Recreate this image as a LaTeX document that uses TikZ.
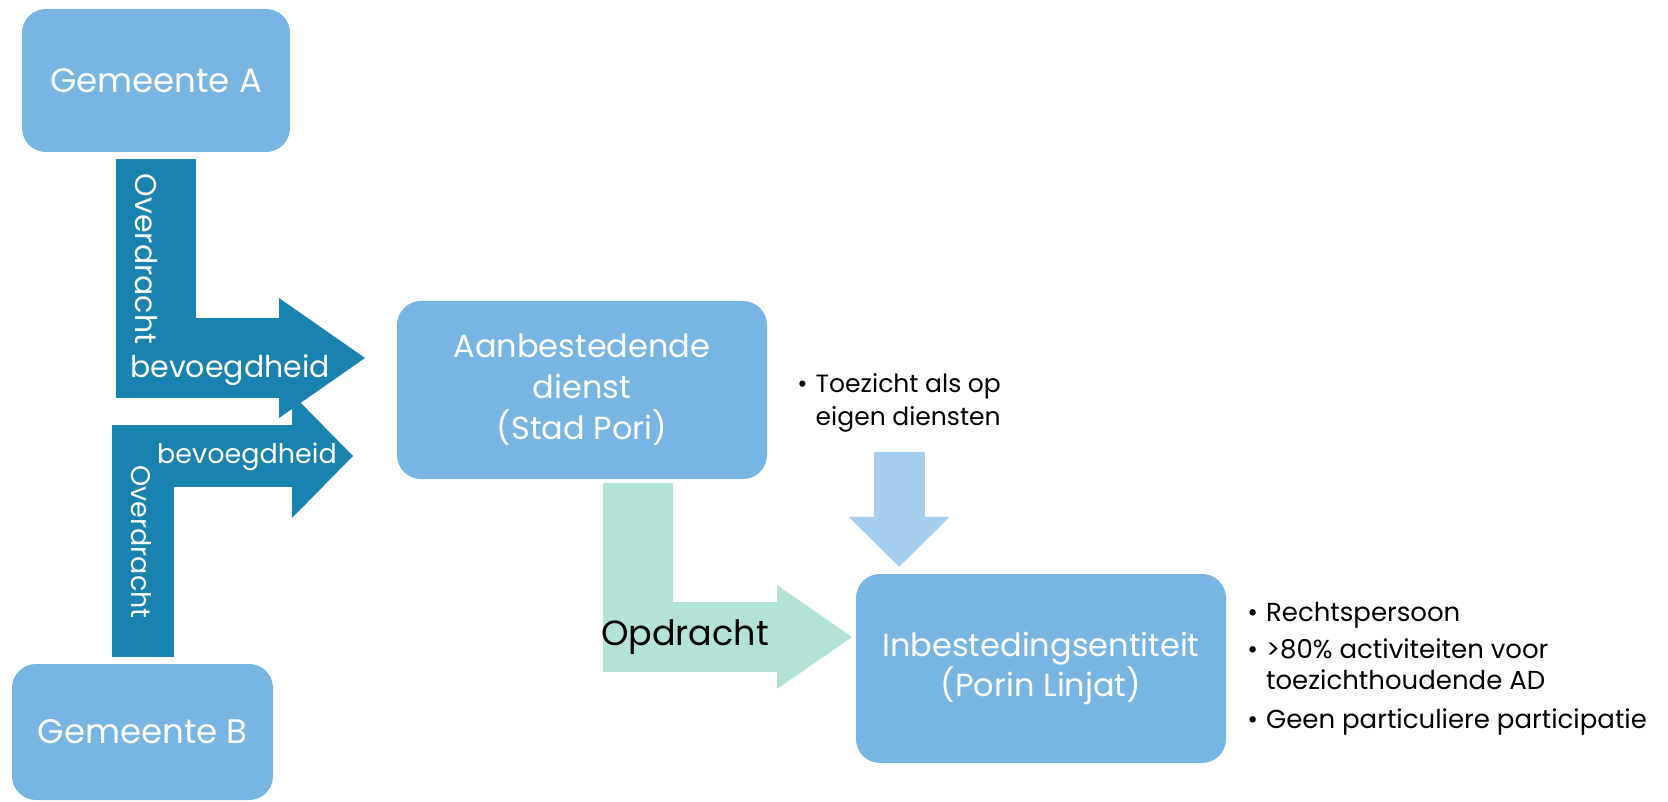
\documentclass[tikz,border=0pt]{standalone}
\usepackage{fontspec}
\setmainfont{Poppins}
\usepackage{tikz}
\usetikzlibrary{positioning, arrows.meta}
\definecolor{boxblue}{RGB}{119,181,227}
\definecolor{tealarrow}{RGB}{25,130,174}
\definecolor{mintarrow}{RGB}{179,227,214}
\definecolor{skyarrow}{RGB}{165,205,237}
\newcommand{\vrt}[1]{\rotatebox[origin=c]{-90}{#1}}
\newcommand{\fsz}[2]{\fontsize{#1}{#2}\selectfont}

\begin{document}
\begin{tikzpicture}[x=1pt, y=-1pt,
    entity/.style={fill=boxblue, rounded corners=24pt, text=white, align=center, inner sep=0pt},
    blockarrow/.style n args={3}{line width=#1, -{Triangle[length=#2, width=#3, line width=0pt]}},
    lbl/.style={text=white, inner sep=0pt}]
                \useasboundingbox (0,0) rectangle (1668,802);

                \node [entity, minimum width=268pt, minimum height=143pt, font=\fsz{34}{40}] (gemA) at (156,80.5) {Gemeente A};
                \node [entity, minimum width=261pt, minimum height=136pt, font=\fsz{34}{40}] (gemB) at (142.5,732) {Gemeente B};
                \node [entity, minimum width=370pt, minimum height=178pt, font=\fsz{32}{41}] (aanb) at (582,390) {Aanbestedende\\dienst\\(Stad Pori)};
                \node [entity, minimum width=370pt, minimum height=189pt, font=\fsz{32}{40}] (inb) at (1041,668.5) {Inbestedingsentiteit\\(Porin Linjat)};

                \node [right=30pt of aanb, yshift=-12pt, inner sep=0pt, font=\fsz{25}{33}] (toez) {\begin{tabular}{@{}l@{\hspace{8pt}}l@{}}\textbullet & Toezicht als op\\ & eigen diensten\end{tabular}};
                \node [right=21pt of inb, inner sep=0pt, font=\fsz{26}{31}] (crit) {\begin{tabular}{@{}l@{\hspace{8pt}}l@{}}\textbullet & Rechtspersoon\\[6pt] \textbullet & >80\% activiteiten voor\\ & toezichthoudende AD\\[8pt] \textbullet & Geen particuliere participatie\end{tabular}};

                \coordinate (tipA) at (365,358);
                \coordinate (tipB) at (353,456);
                \coordinate (tipO) at (852,637);

                \draw [blockarrow={80pt}{86pt}{120pt}, draw=tealarrow] ([yshift=-7pt]gemA.south) |- (tipA);
                \draw [blockarrow={62pt}{61pt}{124pt}, draw=tealarrow] ([yshift=7pt]gemB.north) |- (tipB);
                \draw [blockarrow={70pt}{75pt}{104pt}, draw=mintarrow] ([xshift=56pt, yshift=-4pt]aanb.south) |- (tipO);
                \draw [blockarrow={51pt}{50pt}{101pt}, draw=skyarrow] ([yshift=-17pt]toez.south) -- ([yshift=7pt]toez.south |- inb.north);

                \node [lbl, font=\fsz{30}{36}] (ovA) at (146,259) {\vrt{Overdracht}};
                \node [lbl, anchor=base, font=\fsz{30}{36}] (bvA) at (230,377) {bevoegdheid};
                \node [lbl, font=\fsz{27}{32}] (ovB) at (141,542) {\vrt{Overdracht}};
                \node [lbl, anchor=base, font=\fsz{27}{32}] (bvB) at (247,463) {bevoegdheid};
                \node [anchor=base, inner sep=0pt, font=\fsz{35}{40}] (opd) at (685,645) {Opdracht};
            \end{tikzpicture}
\end{document}
